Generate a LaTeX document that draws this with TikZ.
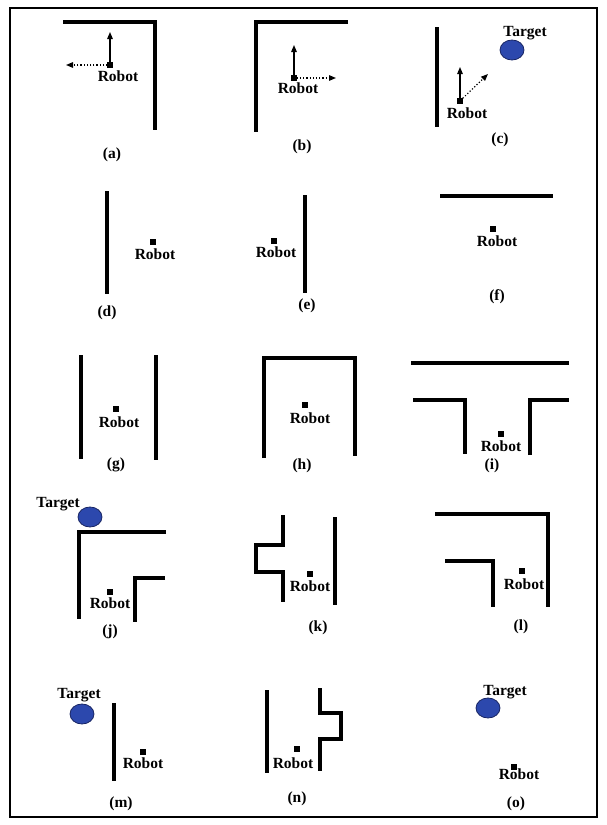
\documentclass[tikz,border=0pt]{standalone}
\usepackage{fontspec}
\setmainfont{Liberation Serif}
\usetikzlibrary{arrows.meta,shapes.geometric}
\definecolor{tblue}{RGB}{44,72,173}
\definecolor{tedge}{RGB}{25,38,100}
\begin{document}
\begin{tikzpicture}[x=1pt,y=-1pt,
  wall/.style={line width=3.6pt,line join=miter},
  bot/.style={fill=black,minimum size=5.5pt,inner sep=0pt,outer sep=0pt},
  lbl/.style={font=\fontsize{15.5}{15.5}\selectfont\bfseries,inner sep=0pt},
  tgt/.style={ellipse,fill=tblue,draw=tedge,line width=0.8pt,minimum width=24pt,minimum height=20pt,inner sep=0pt},
  solidarr/.style={line width=1.2pt,-{Triangle[length=7pt,width=5.5pt]}},
  dotarr/.style={line width=1.2pt,dotted,-{Triangle[length=7pt,width=5.5pt]}}]
\useasboundingbox (0,0) rectangle (606,825);
\fill[white] (0,0) rectangle (606,825);
\draw[line width=2pt] (10,8) rectangle (597,817);

% (a)
\draw[wall] (63,22) -- (155,22) -- (155,130);
\node[bot] (ra) at (110,65) {};
\coordinate (aup) at (110,32);
\coordinate (aleft) at (66,65);
\draw[solidarr] (ra.north) -- (aup);
\draw[dotarr] (ra.west) -- (aleft);
\node[lbl] (la) at (118,76) {Robot};
\node[lbl] (ca) at (112,155) {(a)};

% (b)
\draw[wall] (348,22) -- (256,22) -- (256,132);
\node[bot] (rb) at (294,78) {};
\coordinate (bup) at (294,45);
\coordinate (bright) at (336,78);
\draw[solidarr] (rb.north) -- (bup);
\draw[dotarr] (rb.east) -- (bright);
\node[lbl] (lb) at (298,88) {Robot};
\node[lbl] (cb) at (302,147) {(b)};

% (c)
\draw[wall] (437,27) -- (437,127);
\node[lbl] (tc) at (525,33) {Target};
\node[tgt] (ec) at (512,50) {};
\node[bot] (rc) at (460,101) {};
\coordinate (cup) at (460,67);
\coordinate (cdiag) at (488,74);
\draw[solidarr] (rc.north) -- (cup);
\draw[dotarr] (rc.north east) -- (cdiag);
\node[lbl] (lc) at (467,113) {Robot};
\node[lbl] (cc) at (500,140) {(c)};

% (d)
\draw[wall] (107,191) -- (107,294);
\node[bot] (rd) at (153,242) {};
\node[lbl] (ld) at (155,254) {Robot};
\node[lbl] (cd) at (107,313) {(d)};

% (e)
\draw[wall] (305,195) -- (305,293);
\node[bot] (re) at (274,241) {};
\node[lbl] (le) at (276,252) {Robot};
\node[lbl] (ce) at (307,306) {(e)};

% (f)
\draw[wall] (440,196) -- (553,196);
\node[bot] (rf) at (493,229) {};
\node[lbl] (lf) at (497,241) {Robot};
\node[lbl] (cf) at (497,297) {(f)};

% (g)
\draw[wall] (81,355) -- (81,459);
\draw[wall] (156,355) -- (156,460);
\node[bot] (rg) at (116,409) {};
\node[lbl] (lg) at (119,422) {Robot};
\node[lbl] (cg) at (116,465) {(g)};

% (h)
\draw[wall] (264,458) -- (264,358) -- (355,358) -- (355,456);
\node[bot] (rh) at (305,405) {};
\node[lbl] (lh) at (310,418) {Robot};
\node[lbl] (ch) at (302,466) {(h)};

% (i)
\draw[wall] (411,363) -- (569,363);
\draw[wall] (413,400) -- (465,400) -- (465,454);
\draw[wall] (530,455) -- (530,400) -- (569,400);
\node[bot] (ri) at (501,434) {};
\node[lbl] (li) at (501,446) {Robot};
\node[lbl] (ci) at (492,466) {(i)};

% (j)
\node[lbl] (tj) at (58,504) {Target};
\node[tgt] (ej) at (90,517) {};
\draw[wall] (166,532) -- (79,532) -- (79,619);
\draw[wall] (165,578) -- (135,578) -- (135,622);
\node[bot] (rj) at (110,592) {};
\node[lbl] (lj) at (110,603) {Robot};
\node[lbl] (cj) at (110,632) {(j)};

% (k)
\draw[wall] (283,515) -- (283,545) -- (256,545) -- (256,572) -- (283,572) -- (283,602);
\draw[wall] (335,517) -- (335,605);
\node[bot] (rk) at (310,574) {};
\node[lbl] (lk) at (310,586) {Robot};
\node[lbl] (ck) at (318,628) {(k)};

% (l)
\draw[wall] (435,514) -- (548,514) -- (548,607);
\draw[wall] (445,561) -- (493,561) -- (493,607);
\node[bot] (rl) at (522,571) {};
\node[lbl] (ll) at (524,584) {Robot};
\node[lbl] (cl) at (521,627) {(l)};

% (m)
\node[lbl] (tm) at (79,695) {Target};
\node[tgt] (em) at (82,714) {};
\draw[wall] (114,703) -- (114,781);
\node[bot] (rm) at (143,752) {};
\node[lbl] (lm) at (143,763) {Robot};
\node[lbl] (cm) at (121,804) {(m)};

% (n)
\draw[wall] (267,690) -- (267,773);
\draw[wall] (320,688) -- (320,713) -- (341,713) -- (341,739) -- (320,739) -- (320,771);
\node[bot] (rn) at (297,749) {};
\node[lbl] (ln) at (293,763) {Robot};
\node[lbl] (cn) at (297,799) {(n)};

% (o)
\node[lbl] (to) at (505,692) {Target};
\node[tgt] (eo) at (488,708) {};
\node[lbl] (lo) at (519,774) {Robot};
\node[bot] (ro) at (514,767) {};
\node[lbl] (co) at (516,804) {(o)};
\end{tikzpicture}
\end{document}
